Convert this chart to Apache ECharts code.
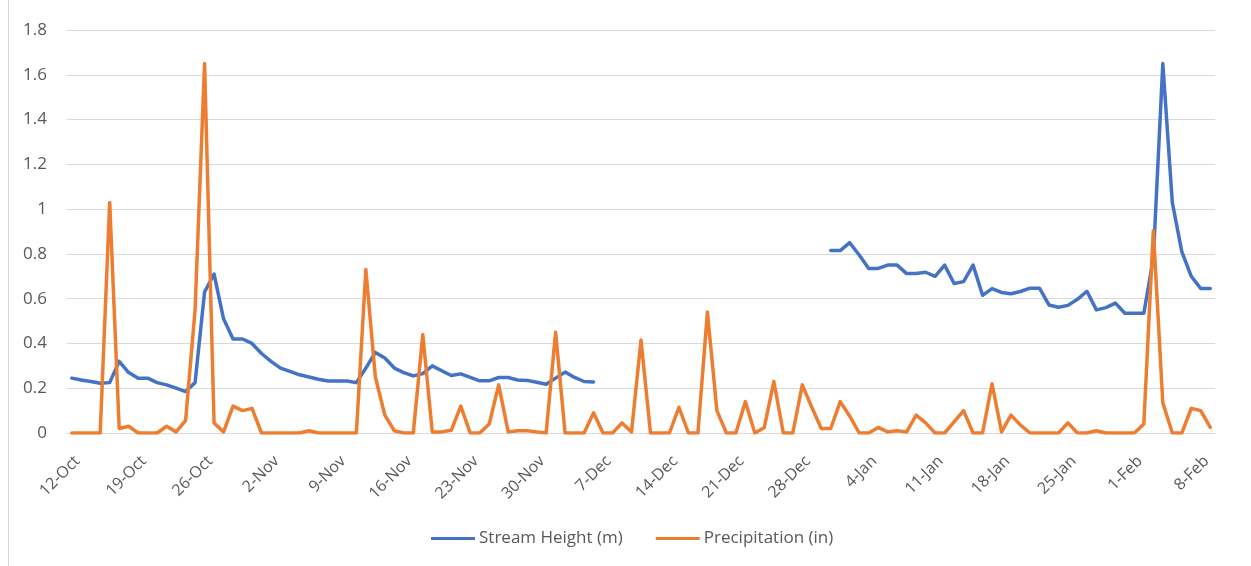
<!DOCTYPE html>
<html>
<head>
<meta charset="utf-8">
<script src="https://cdn.jsdelivr.net/npm/echarts@6/dist/echarts.min.js"></script>
<style>
  html, body { margin: 0; padding: 0; background: #ffffff; }
  #chart { width: 1251px; height: 566px; }
</style>
</head>
<body>
<div id="chart"></div>
<script>
// Day-by-day categories: 12-Oct .. 9-Feb
const MONTH_SPANS = [['Oct', 12, 31], ['Nov', 1, 30], ['Dec', 1, 31], ['Jan', 1, 31], ['Feb', 1, 9]];
const categories = [];
MONTH_SPANS.forEach(([m, a, b]) => { for (let d = a; d <= b; d++) categories.push(d + '-' + m); });

// Stream Height (m): 12-Oct .. 6-Dec, gap, 31-Dec .. 9-Feb
const streamAutumn = [
  0.245, 0.237, 0.23, 0.222, 0.225, 0.32, 0.27, 0.245, 0.245, 0.225,
  0.215, 0.2, 0.185, 0.225, 0.63, 0.71, 0.51, 0.42, 0.42, 0.4,
  0.355, 0.32, 0.29, 0.275, 0.26, 0.25, 0.24, 0.232, 0.232, 0.232,
  0.225, 0.29, 0.36, 0.335, 0.29, 0.27, 0.255, 0.265, 0.3, 0.278,
  0.257, 0.264, 0.248, 0.233, 0.233, 0.248, 0.248, 0.237, 0.235, 0.227,
  0.218, 0.245, 0.272, 0.248, 0.23, 0.228
];
const streamGap = [
  null, null, null, null, null, null, null, null, null, null, null, null,
  null, null, null, null, null, null, null, null, null, null, null, null
];
const streamWinter = [
  0.815, 0.815, 0.85, 0.795, 0.735, 0.735, 0.75, 0.75, 0.712, 0.712,
  0.718, 0.7, 0.75, 0.668, 0.676, 0.75, 0.615, 0.645, 0.628, 0.622,
  0.632, 0.647, 0.647, 0.572, 0.562, 0.57, 0.597, 0.633, 0.55, 0.56,
  0.58, 0.535, 0.535, 0.535, 0.78, 1.65, 1.03, 0.81, 0.7, 0.645, 0.645
];
const streamHeight = streamAutumn.concat(streamGap, streamWinter);

// Precipitation (in): 12-Oct .. 9-Feb
const precipitation = [
  0, 0, 0, 0, 1.03, 0.02, 0.03, 0, 0, 0,
  0.03, 0.005, 0.055, 0.55, 1.65, 0.045, 0.005, 0.12, 0.1, 0.11,
  0, 0, 0, 0, 0, 0.01, 0, 0, 0, 0,
  0, 0.73, 0.25, 0.08, 0.01, 0, 0, 0.44, 0.005, 0.005,
  0.012, 0.12, 0, 0, 0.04, 0.215, 0.005, 0.01, 0.01, 0.005,
  0, 0.45, 0, 0, 0, 0.09, 0, 0, 0.045, 0.005,
  0.415, 0, 0, 0, 0.115, 0, 0, 0.54, 0.1, 0,
  0, 0.14, 0, 0.025, 0.23, 0, 0, 0.215, 0.115, 0.02,
  0.02, 0.14, 0.075, 0, 0, 0.025, 0.005, 0.01, 0.005, 0.08,
  0.045, 0, 0, 0.05, 0.1, 0, 0, 0.22, 0.005, 0.08,
  0.035, 0, 0, 0, 0, 0.045, 0, 0, 0.01, 0,
  0, 0, 0, 0.04, 0.905, 0.135, 0, 0, 0.11, 0.1,
  0.025
];

const yMin = 0, yMax = 1.8, yStep = 0.2;
const seriesNames = ['Stream Height (m)', 'Precipitation (in)'];

const textColor = '#595959';
const gridColor = '#D9D9D9';
const font = '"Open Sans", "Noto Sans", sans-serif';

const chart = echarts.init(document.getElementById('chart'), null, { renderer: 'canvas' });
chart.setOption({
  animation: false,
  backgroundColor: '#ffffff',
  graphic: [{
    type: 'line',
    shape: { x1: 8.5, y1: 0, x2: 8.5, y2: 566 },
    style: { stroke: gridColor, lineWidth: 1 }
  }],
  grid: { left: 67, right: 36, top: 30, bottom: 133 },
  legend: {
    data: seriesNames,
    left: 426,
    top: 525,
    icon: 'rect',
    itemWidth: 44,
    itemHeight: 3,
    itemGap: 33,
    textStyle: { color: textColor, fontSize: 17, fontFamily: font, padding: [0, 0, 0, -1] }
  },
  xAxis: {
    type: 'category',
    data: categories,
    boundaryGap: true,
    axisLine: { lineStyle: { color: gridColor, width: 1 } },
    axisTick: { interval: 6, length: 6, lineStyle: { color: gridColor } },
    axisLabel: {
      interval: 6,
      rotate: 45,
      margin: 20,
      verticalAlign: 'top',
      color: textColor,
      fontSize: 16,
      fontFamily: font
    },
    splitLine: { show: false }
  },
  yAxis: {
    type: 'value',
    min: yMin,
    max: yMax,
    interval: yStep,
    axisLine: { show: false },
    axisTick: { show: false },
    axisLabel: { color: textColor, fontSize: 17, fontFamily: font, margin: 20 },
    splitLine: { lineStyle: { color: gridColor, width: 1 } }
  },
  series: [
    {
      name: seriesNames[0],
      type: 'line',
      data: streamHeight,
      showSymbol: false,
      connectNulls: false,
      lineStyle: { color: '#4472C4', width: 3.5, cap: 'round', join: 'round' },
      itemStyle: { color: '#4472C4' }
    },
    {
      name: seriesNames[1],
      type: 'line',
      data: precipitation,
      showSymbol: false,
      lineStyle: { color: '#ED7D31', width: 3.5, cap: 'round', join: 'round' },
      itemStyle: { color: '#ED7D31' }
    }
  ]
});
</script>
</body>
</html>
